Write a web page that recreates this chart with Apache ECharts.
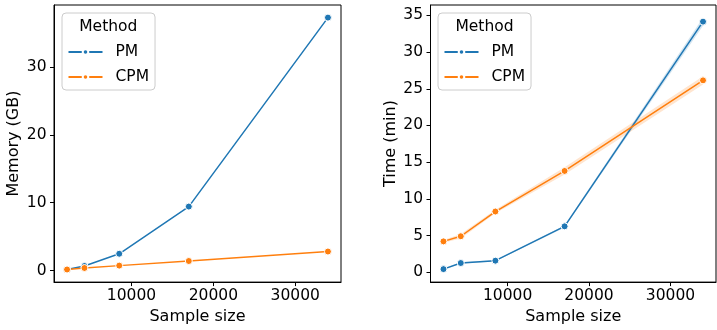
<!DOCTYPE html>
<html>
<head>
<meta charset="utf-8">
<script src="https://cdn.jsdelivr.net/npm/echarts@6/dist/echarts.min.js"></script>
<style>
  html, body { margin: 0; padding: 0; background: #fff; }
  #chart { width: 717px; height: 330px; }
</style>
</head>
<body>
<div id="chart"></div>
<script>
// data
const sampleSizes = [2125, 4250, 8500, 17000, 34000];
const methods = ['PM', 'CPM'];

const memPM = [0.15, 0.67, 2.47, 9.43, 37.3];
const memCPM = [0.15, 0.37, 0.72, 1.4, 2.8];

const timePM = [0.42, 1.25, 1.57, 6.25, 34.15];
const timeCPM = [4.2, 4.9, 8.27, 13.8, 26.15];

// confidence bands for the time panel
const timePMLo = [0.35, 1.15, 1.5, 6.1, 33.6];
const timePMHi = [0.5, 1.35, 1.65, 6.4, 34.7];
const timeCPMLo = [4.0, 4.6, 8.05, 13.3, 25.6];
const timeCPMHi = [4.4, 5.2, 8.5, 14.3, 26.7];

const xTicks = [10000, 20000, 30000];
const memTicks = [0, 10, 20, 30];
const timeTicks = [0, 5, 10, 15, 20, 25, 30, 35];

const BLUE = '#1f77b4';
const ORANGE = '#ff7f0e';
const FONT = 'DejaVu Sans';

const chart = echarts.init(document.getElementById('chart'));

const pairs = (ys) => sampleSizes.map((x, i) => [x, ys[i]]);

function lineSeries(name, ys, color, idx) {
  return {
    name: name,
    type: 'line',
    xAxisIndex: idx,
    yAxisIndex: idx,
    data: pairs(ys),
    symbol: 'circle',
    symbolSize: 7,
    lineStyle: { color: color, width: 1.5 },
    itemStyle: { color: color, borderColor: '#fff', borderWidth: 1 },
    z: 3
  };
}

// band polygon, drawn through the axis scale with api.coord
function bandSeries(lo, hi, color, idx) {
  return {
    type: 'custom',
    xAxisIndex: idx,
    yAxisIndex: idx,
    silent: true,
    z: 1,
    data: [[sampleSizes[0], lo[0]]],
    renderItem: function (params, api) {
      const pts = [];
      for (let i = 0; i < sampleSizes.length; i++) pts.push(api.coord([sampleSizes[i], hi[i]]));
      for (let i = sampleSizes.length - 1; i >= 0; i--) pts.push(api.coord([sampleSizes[i], lo[i]]));
      return {
        type: 'polygon',
        shape: { points: pts },
        style: { fill: color, opacity: 0.2 }
      };
    }
  };
}

function xAxis(idx) {
  return {
    type: 'value',
    gridIndex: idx,
    min: 531,
    max: 35594,
    name: 'Sample size',
    nameLocation: 'middle',
    nameGap: 24,
    nameTextStyle: { fontFamily: FONT, fontSize: 16, color: '#000' },
    splitLine: { show: false },
    axisLine: { onZero: false, lineStyle: { color: '#000', width: 1 } },
    axisTick: { length: 4, lineStyle: { color: '#000' }, customValues: xTicks },
    axisLabel: {
      fontFamily: FONT, fontSize: 15.5, color: '#000', margin: 6,
      customValues: xTicks,
      formatter: (v) => String(v)
    }
  };
}

function yAxis(idx, name, min, max, ticks) {
  return {
    type: 'value',
    gridIndex: idx,
    min: min,
    max: max,
    name: name,
    nameLocation: 'middle',
    nameGap: 32,
    nameTextStyle: { fontFamily: FONT, fontSize: 16, color: '#000' },
    splitLine: { show: false },
    axisLine: { show: true, onZero: false, lineStyle: { color: '#000', width: 1 } },
    axisTick: { show: true, length: 4, lineStyle: { color: '#000' }, customValues: ticks },
    axisLabel: { fontFamily: FONT, fontSize: 15.5, color: '#000', margin: 7.5, customValues: ticks }
  };
}

function legend(left) {
  return {
    left: left,
    top: 13,
    orient: 'vertical',
    data: methods,
    selectedMode: false,
    itemWidth: 34,
    itemHeight: 7,
    itemGap: 9,
    padding: [31, 6, 5, 5.5],
    backgroundColor: 'rgba(255,255,255,0.8)',
    borderColor: '#cccccc',
    borderWidth: 1,
    borderRadius: 4,
    // spacer block pushes the label right of the icon, like matplotlib
    formatter: '{s| }{name}',
    textStyle: {
      fontFamily: FONT, fontSize: 15.5, color: '#000', lineHeight: 16,
      rich: { s: { width: 8, fontSize: 15.5, lineHeight: 16 } }
    }
  };
}

function legendTitle(x) {
  return {
    type: 'text', x: x, y: 27, z: 100,
    style: { text: 'Method', fontFamily: FONT, fontSize: 15.5, fill: '#000', align: 'center', verticalAlign: 'middle' }
  };
}

const option = {
  animation: false,
  backgroundColor: '#fff',
  grid: [
    { left: 54, top: 5, width: 287, height: 285, show: true, borderColor: '#000', borderWidth: 1 },
    { left: 430.5, top: 5, width: 285.5, height: 285, show: true, borderColor: '#000', borderWidth: 1 }
  ],
  xAxis: [xAxis(0), xAxis(1)],
  yAxis: [
    yAxis(0, 'Memory (GB)', -1.71, 39.16, memTicks),
    yAxis(1, 'Time (min)', -1.35, 36.42, timeTicks)
  ],
  legend: [legend(62), legend(438)],
  graphic: [legendTitle(108.3), legendTitle(484.5)],
  series: [
    lineSeries('PM', memPM, BLUE, 0),
    lineSeries('CPM', memCPM, ORANGE, 0),
    bandSeries(timePMLo, timePMHi, BLUE, 1),
    bandSeries(timeCPMLo, timeCPMHi, ORANGE, 1),
    lineSeries('PM', timePM, BLUE, 1),
    lineSeries('CPM', timeCPM, ORANGE, 1)
  ]
};

chart.setOption(option);
</script>
</body>
</html>
